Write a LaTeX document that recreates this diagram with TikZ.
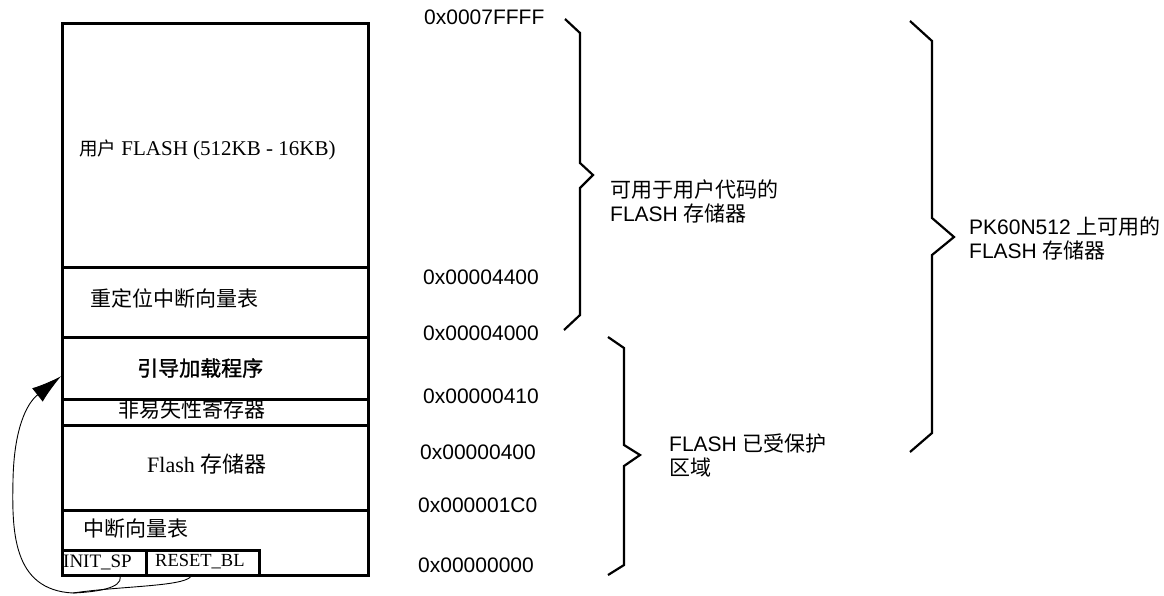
\documentclass[tikz,border=0pt]{standalone}
\usepackage{fontspec}
\setmainfont{Liberation Serif}
\setsansfont{Liberation Sans}
\newfontfamily\cjk{Noto Sans CJK SC}
\newfontfamily\cjkb{Noto Sans CJK SC}[FakeBold=1.2]
\usetikzlibrary{arrows.meta,calc}
\newcommand{\myfs}[2]{\fontsize{#1}{#2}\selectfont}
\begin{document}
\begin{tikzpicture}[x=1pt,y=-1pt,
  cell/.style={draw, line width=2.6pt, anchor=north west, inner sep=0pt, minimum width=306pt},
  small/.style={draw, line width=2.6pt, anchor=north west, inner sep=0pt, minimum height=25pt},
  lbl/.style={inner sep=0pt, anchor=west},
  addr/.style={inner sep=0pt, anchor=west, font=\sffamily\myfs{21}{24}},
  blabel/.style={inner sep=0pt, anchor=west, align=left, font=\sffamily\myfs{21}{24}},
  brace/.style={line width=2.2pt, line join=miter},
  conn/.style={line width=0.9pt},
  arrowc/.style={line width=0.9pt, -{Latex[length=30pt,width=17pt]}}
]
\useasboundingbox (0,0) rectangle (1164,595);

% memory cells
\node[cell, minimum height=244pt] (user) at (61,22) {};
\node[cell, minimum height=70pt] (reloc) at (61,266) {};
\node[cell, minimum height=62pt] (boot) at (61,336) {};
\node[cell, minimum height=26pt] (nvr) at (61,398) {};
\node[cell, minimum height=85pt] (fmem) at (61,424) {};
\node[cell, minimum height=65pt] (ivt) at (61,509) {};
\node[small, minimum width=84pt] (initsp) at (61,549) {};
\node[small, minimum width=113pt] (resetbl) at (145,549) {};

% cell texts
\node[lbl, font=\myfs{21}{22}] (tuser) at (79,150) {{\cjk\myfs{18.5}{20}用户} FLASH (512KB - 16KB)};
\node[lbl] (treloc) at (90,298) {\cjk\myfs{21}{24}重定位中断向量表};
\node[lbl] (tboot) at (137,368) {\cjkb\myfs{21}{24}引导加载程序};
\node[lbl] (tnvr) at (118,410) {\cjk\myfs{21}{24}非易失性寄存器};
\node[lbl, font=\myfs{22}{24}] (tfmem) at (147,464) {Flash {\cjk\myfs{22}{24}存储器}};
\node[lbl] (tivt) at (83,529) {\cjk\myfs{21}{24}中断向量表};
\node[lbl] (tinit) at (63,562) {\myfs{19}{21}INIT\_SP};
\node[lbl] (treset) at (155,562) {\myfs{18.5}{21}RESET\_BL};

% addresses
\node[addr] (a1) at (424,17) {0x0007FFFF};
\node[addr] (a2) at (423,277) {0x00004400};
\node[addr] (a3) at (423,333) {0x00004000};
\node[addr] (a4) at (423,396) {0x00000410};
\node[addr] (a5) at (420,452) {0x00000400};
\node[addr] (a6) at (418,505) {0x000001C0};
\node[addr] (a7) at (418,565) {0x00000000};

% braces
\draw[brace] (565,19) -- (580,33) -- (580,163) -- (593,175) -- (580,188) -- (580,315) -- (564,330);
\draw[brace] (608,337) -- (624,348) -- (624,445) -- (640,455) -- (624,466) -- (624,565) -- (608,575);
\draw[brace] (910,21) -- (932,41) -- (932,218) -- (954,237) -- (932,255) -- (932,433) -- (910,452);

% brace labels
\node[blabel] (b1) at (610,201) {{\cjk 可用于用户代码的}\\FLASH {\cjk 存储器}};
\node[blabel] (b2) at (669,455) {FLASH {\cjk 已受保护}\\{\cjk 区域}};
\node[blabel] (b3) at (969,238) {PK60N512 {\cjk 上可用的}\\FLASH {\cjk 存储器}};

% reset arrows
\coordinate (j) at (73,593);
\draw[conn] ($(initsp.south)+(16,0)$) .. controls ($(initsp.south)+(18,12)$) and (95,592) .. (j);
\draw[conn] ($(resetbl.south)+(-12,0)$) .. controls ($(resetbl.south)+(-20,10)$) and (120,586) .. (j);
\draw[arrowc] (j) .. controls (12,590) and (12,530) .. (13,480)
  .. controls (14,430) and (26,404) .. ($(boot.west)+(0,8)$);
\end{tikzpicture}
\end{document}
